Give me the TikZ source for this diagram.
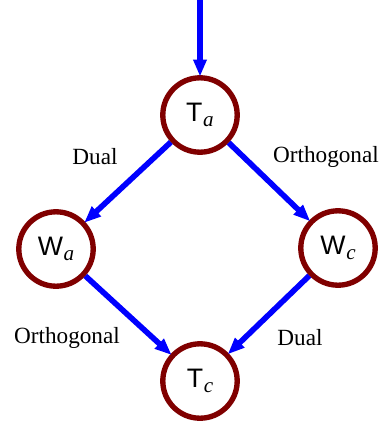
\documentclass[tikz,border=0pt]{standalone}
\usepackage{fontspec}
\setmainfont{Liberation Serif}
\setsansfont{Liberation Sans}
\usetikzlibrary{arrows.meta,positioning}
\definecolor{Maroon}{HTML}{800000}
\definecolor{FlowBlue}{HTML}{0000FF}
\newcommand{\tsub}[2]{\textsf{#1}\kern0.5pt\raisebox{-0.45ex}{\fontsize{15}{18}\selectfont\textit{#2}}}

\begin{document}
\begin{tikzpicture}[x=0.025cm,y=-0.025cm,every node/.style={font=\fontsize{16.5}{20}\selectfont},state/.style={circle,draw=Maroon,line width=3.8pt,minimum size=1.86cm,inner sep=0pt,font=\fontsize{19}{22}\selectfont},flow/.style={-{Triangle[length=12pt,width=9pt]},line width=4pt,draw=FlowBlue,shorten >=-1pt}]
\useasboundingbox[fill=white] (0,0) rectangle (384,428);

\node[state] (Ta) at (200,115) {\tsub{T}{a}};
\node[state] (Wa) at (56,249) {\tsub{W}{a}};
\node[state] (Wc) at (338,248) {\tsub{W}{c}};
\node[state] (Tc) at (200,381) {\tsub{T}{c}};
\coordinate (In) at (200,0);

\draw[flow] (In)--(Ta);
\draw[flow] (Ta)--(Wa); \draw[flow] (Ta)--(Wc);
\draw[flow] (Wa)--(Tc); \draw[flow] (Wc)--(Tc);

\node (dl) at (95,157) {Dual};
\node (ou) at (326,157) {Orthogonal};
\node (ol) at (67,338) {Orthogonal};
\node (dr) at (300,338) {Dual};

\end{tikzpicture}
\end{document}
